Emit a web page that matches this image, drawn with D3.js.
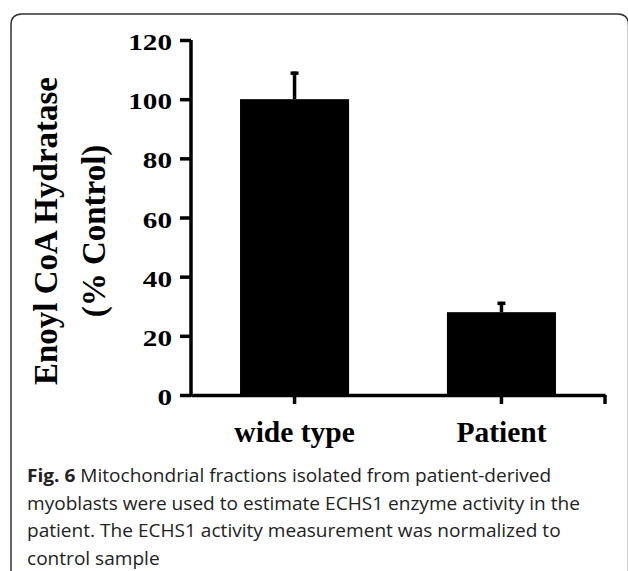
<!DOCTYPE html>
<html>
<head>
<meta charset="utf-8">
<script src="https://cdn.jsdelivr.net/npm/d3@7"></script>
<style>
  body { margin: 0; background: #fff; }
  svg { display: block; }
</style>
</head>
<body>
<div id="chart-area"></div>
<script>
// data
var groups = ["wide type", "Patient"];
var activity = [100, 28];
var errors = [9.3, 3.5];
var yTicks = [0, 20, 40, 60, 80, 100, 120];

var caption = [
  [{ t: "Fig. 6", b: true }, { t: " Mitochondrial fractions isolated from patient-derived", b: false }],
  [{ t: "myoblasts were used to estimate ECHS1 enzyme activity in the", b: false }],
  [{ t: "patient. The ECHS1 activity measurement was normalized to", b: false }],
  [{ t: "control sample", b: false }]
];

var svg = d3.select("#chart-area")
  .append("svg")
  .attr("width", 628)
  .attr("height", 571);

svg.append("rect").attr("width", 628).attr("height", 571).attr("fill", "#fff");

// rounded frame round the figure
svg.append("path")
  .attr("d", "M11,571V25Q11,14 22,14H617Q628.5,14 628.5,25V571")
  .attr("fill", "none")
  .attr("stroke", "#333")
  .attr("stroke-width", 1.5);

var data = groups.map(function(g, i) {
  return { name: g, value: activity[i], err: errors[i] };
});

var x = d3.scaleBand()
  .domain(groups)
  .range([191, 605])
  .paddingInner(0.473)
  .paddingOuter(0.237);

var y = d3.scaleLinear()
  .domain([0, 120])
  .range([395, 40]);

var serif = "'Liberation Serif', 'Times New Roman', serif";

// bars
svg.selectAll("rect.bar")
  .data(data)
  .enter()
  .append("rect")
  .attr("class", "bar")
  .attr("x", function(d) { return x(d.name); })
  .attr("y", function(d) { return y(d.value); })
  .attr("width", x.bandwidth())
  .attr("height", function(d) { return y(0) - y(d.value); })
  .attr("fill", "#000");

// error bars (upper half only shows)
var eb = svg.selectAll("g.err")
  .data(data)
  .enter()
  .append("g")
  .attr("class", "err");

eb.append("line")
  .attr("x1", function(d) { return x(d.name) + x.bandwidth() / 2; })
  .attr("x2", function(d) { return x(d.name) + x.bandwidth() / 2; })
  .attr("y1", function(d) { return y(d.value); })
  .attr("y2", function(d) { return y(d.value + d.err); })
  .attr("stroke", "#000")
  .attr("stroke-width", 3.5);

eb.append("line")
  .attr("x1", function(d) { return x(d.name) + x.bandwidth() / 2 - 4; })
  .attr("x2", function(d) { return x(d.name) + x.bandwidth() / 2 + 4; })
  .attr("y1", function(d) { return y(d.value + d.err) + 1.5; })
  .attr("y2", function(d) { return y(d.value + d.err) + 1.5; })
  .attr("stroke", "#000")
  .attr("stroke-width", 3.5);

// y axis
var yAxis = svg.append("g")
  .attr("transform", "translate(191,0)")
  .call(d3.axisLeft(y).tickValues(yTicks).tickSize(11).tickSizeOuter(0).tickPadding(0));

yAxis.select(".domain").attr("stroke-width", 3.5).attr("d", "M0," + y(120) + "V" + (y(0) + 1.5));
yAxis.selectAll(".tick line").attr("stroke-width", 3.5);
yAxis.selectAll(".tick text")
  .attr("x", -19 / 1.27)
  .attr("dy", 9.5)
  .attr("transform", "scale(1.27,1)")
  .style("font-family", serif)
  .style("font-weight", "bold")
  .style("font-size", "23px")
  .attr("fill", "#000");

// x axis
var xAxis = svg.append("g")
  .attr("transform", "translate(0,395)")
  .call(d3.axisBottom(x).tickSize(9).tickSizeOuter(0).tickPadding(17));

xAxis.select(".domain").attr("stroke-width", 3.5);
xAxis.selectAll(".tick line").attr("stroke-width", 3.5);
xAxis.selectAll(".tick text")
  .style("font-family", serif)
  .style("font-weight", "bold")
  .style("font-size", "29.5px")
  .attr("fill", "#000");

// closing tick at right end of x axis
xAxis.append("line")
  .attr("x1", x.range()[1])
  .attr("x2", x.range()[1])
  .attr("y1", 0)
  .attr("y2", 9)
  .attr("stroke", "#000")
  .attr("stroke-width", 3.5);

// y label
var yl = svg.append("text")
  .attr("transform", "translate(57,231) rotate(-90)")
  .attr("text-anchor", "middle")
  .style("font-family", serif)
  .style("font-weight", "bold")
  .style("font-size", "33px");
yl.append("tspan").attr("x", 0).attr("dy", 0).text("Enoyl CoA Hydratase");
yl.append("tspan").attr("x", 0).attr("dy", 48).text("(% Control)");

// caption, a little wider than Open Sans normally sets
var capScale = 1.09;
var cap = svg.append("g")
  .attr("transform", "scale(" + capScale + ",1)")
  .style("font-family", "'Open Sans', sans-serif")
  .style("font-size", "17.5px")
  .attr("fill", "#222");

cap.selectAll("text")
  .data(caption)
  .enter()
  .append("text")
  .attr("x", 27 / capScale)
  .attr("y", function(d, i) { return 482 + i * 27.7; })
  .selectAll("tspan")
  .data(function(d) { return d; })
  .enter()
  .append("tspan")
  .style("font-weight", function(d) { return d.b ? "bold" : "normal"; })
  .text(function(d) { return d.t; });
</script>
</body>
</html>
